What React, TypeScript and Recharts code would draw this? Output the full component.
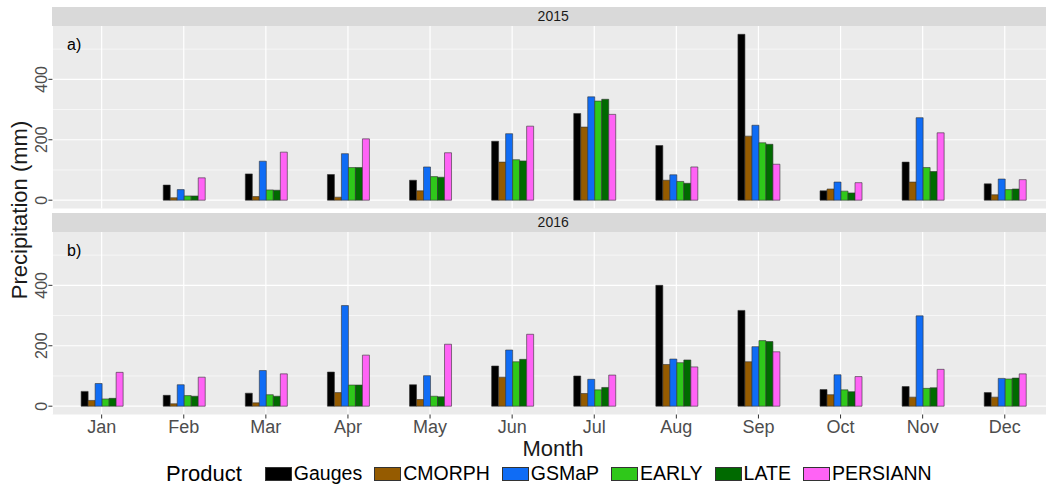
import { BarChart, Bar, XAxis, YAxis, CartesianGrid } from 'recharts'

const months = ['Jan', 'Feb', 'Mar', 'Apr', 'May', 'Jun', 'Jul', 'Aug', 'Sep', 'Oct', 'Nov', 'Dec']
const products = ['Gauges', 'CMORPH', 'GSMaP', 'EARLY', 'LATE', 'PERSIANN']
const productColors = ['#000000', '#955b00', '#0f6cf5', '#2fc81a', '#006a00', '#ff63f5']

// 2015 (panel a) - Jan has no data
const gauges2015 = [null, 50, 87, 85, 66, 195, 287, 181, 549, 31, 126, 54]
const cmorph2015 = [null, 8, 12, 10, 31, 126, 242, 66, 212, 37, 60, 18]
const gsmap2015 = [null, 35, 129, 154, 110, 220, 342, 84, 248, 60, 273, 70]
const early2015 = [null, 14, 34, 108, 78, 134, 328, 62, 190, 30, 108, 35]
const late2015 = [null, 14, 33, 108, 76, 130, 334, 56, 185, 24, 95, 37]
const persiann2015 = [null, 74, 159, 203, 157, 245, 284, 110, 119, 58, 223, 68]

// 2016 (panel b)
const gauges2016 = [49, 36, 43, 113, 71, 133, 100, 400, 317, 55, 65, 45]
const cmorph2016 = [19, 8, 11, 45, 22, 96, 42, 138, 147, 38, 30, 30]
const gsmap2016 = [75, 71, 118, 333, 101, 186, 89, 156, 197, 104, 299, 92]
const early2016 = [24, 35, 38, 70, 33, 147, 54, 144, 217, 54, 59, 90]
const late2016 = [26, 33, 33, 70, 31, 155, 62, 153, 214, 48, 61, 93]
const persiann2016 = [112, 96, 107, 169, 205, 238, 103, 130, 180, 98, 122, 107]

const yTicks = [0, 200, 400]
const yMinor = [100, 300, 500]

function buildRows(series: (number | null)[][]) {
  return months.map((m, i) => {
    const row: Record<string, any> = { month: m }
    products.forEach((p, k) => {
      row[p] = series[k][i]
    })
    return row
  })
}

const data2015 = buildRows([gauges2015, cmorph2015, gsmap2015, early2015, late2015, persiann2015])
const data2016 = buildRows([gauges2016, cmorph2016, gsmap2016, early2016, late2016, persiann2016])

const FONT = '"Liberation Sans", Arial, Helvetica, sans-serif'
const PLOT_LEFT = 52.4

function YTick({ x, y, payload }: any) {
  return (
    <text
      x={x + 0.5}
      y={y}
      transform={`rotate(-90, ${x + 0.5}, ${y})`}
      textAnchor="middle"
      fontSize={16}
      fill="#4d4d4d"
      fontFamily={FONT}
    >
      {payload.value}
    </text>
  )
}

function Panel({ data, top, bottom, showX }: any) {
  return (
    <div style={{ position: 'absolute', left: 0, top: 0 }}>
      <BarChart
        width={1054}
        height={486}
        data={data}
        margin={{ top, right: 0, bottom, left: 0 }}
        barCategoryGap="25%"
        barGap={0}
      >
        <CartesianGrid
          fill="#ebebeb"
          stroke="#ffffff"
          strokeWidth={0.6}
          vertical={false}
          horizontalValues={yMinor}
        />
        <CartesianGrid
          stroke="#ffffff"
          strokeWidth={1.2}
          horizontalValues={yTicks}
        />
        <XAxis
          dataKey="month"
          hide={!showX}
          height={showX ? 30 : 0}
          padding={{ left: 8.2, right: 8.2 }}
          axisLine={false}
          tickSize={4}
          tickLine={{ stroke: '#333333' }}
          tick={{ fontSize: 18, fill: '#4d4d4d', fontFamily: FONT }}
          interval={0}
        />
        <YAxis
          type="number"
          domain={[-27.5, 576.5]}
          allowDataOverflow
          ticks={yTicks}
          width={PLOT_LEFT}
          axisLine={false}
          tickSize={4}
          tickLine={{ stroke: '#333333' }}
          tick={<YTick />}
        />
        {products.map((p, k) => (
          <Bar
            key={p}
            dataKey={p}
            fill={productColors[k]}
            stroke="#333333"
            strokeWidth={0.6}
            isAnimationActive={false}
          />
        ))}
      </BarChart>
    </div>
  )
}

function Strip({ top, label }: { top: number; label: string }) {
  return (
    <div
      style={{
        position: 'absolute',
        left: PLOT_LEFT,
        top,
        width: 1054 - PLOT_LEFT,
        height: 19,
        background: '#d9d9d9',
        color: '#1a1a1a',
        fontSize: 14,
        lineHeight: '19px',
        textAlign: 'center',
      }}
    >
      {label}
    </div>
  )
}

export default function App() {
  return (
    <div
      style={{
        position: 'absolute',
        left: 0,
        top: 0,
        width: 1046,
        height: 486,
        overflow: 'hidden',
        background: '#ffffff',
        fontFamily: FONT,
      }}
    >
      <Strip top={7} label="2015" />
      <Strip top={213} label="2016" />
      <Panel data={data2015} top={26} bottom={277.5} showX={false} />
      <Panel data={data2016} top={232} bottom={41.5} showX={true} />

      <div style={{ position: 'absolute', left: 67, top: 37, fontSize: 16, color: '#000', lineHeight: 1 }}>a)</div>
      <div style={{ position: 'absolute', left: 67, top: 243, fontSize: 16, color: '#000', lineHeight: 1 }}>b)</div>

      <div
        style={{
          position: 'absolute',
          left: 20,
          top: 210,
          transform: 'translate(-50%, -50%) rotate(-90deg)',
          fontSize: 22,
          color: '#1a1a1a',
          whiteSpace: 'nowrap',
          lineHeight: 1,
        }}
      >
        Precipitation (mm)
      </div>

      <div
        style={{
          position: 'absolute',
          left: 553,
          top: 438,
          transform: 'translateX(-50%)',
          fontSize: 22,
          color: '#1a1a1a',
          lineHeight: 1,
        }}
      >
        Month
      </div>

      <div
        style={{
          position: 'absolute',
          left: 166,
          top: 463,
          height: 22,
          display: 'flex',
          alignItems: 'center',
          whiteSpace: 'nowrap',
        }}
      >
        <span style={{ fontSize: 22, color: '#000', lineHeight: 1, marginRight: 23 }}>Product</span>
        {products.map((p, k) => (
          <span key={p} style={{ display: 'flex', alignItems: 'center', marginRight: 12 }}>
            <span
              style={{
                display: 'inline-block',
                width: 25,
                height: 12,
                background: productColors[k],
                border: '0.6px solid #333',
                marginRight: 2,
              }}
            />
            <span style={{ fontSize: 19.5, color: '#000', lineHeight: 1 }}>{p}</span>
          </span>
        ))}
      </div>
    </div>
  )
}
